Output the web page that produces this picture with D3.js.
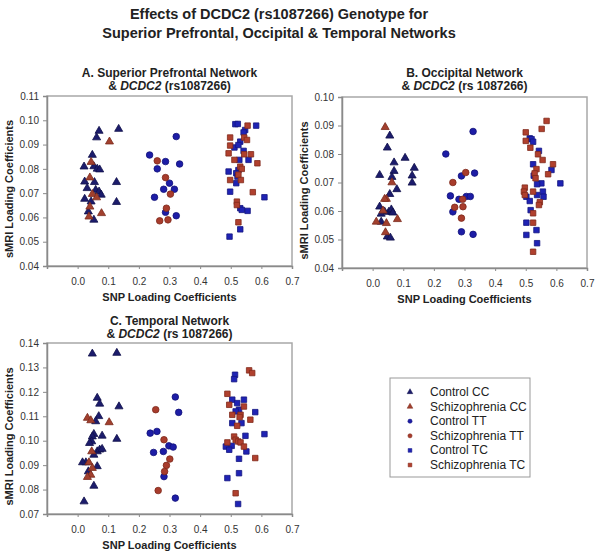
<!DOCTYPE html>
<html><head><meta charset="utf-8">
<script src="https://cdn.jsdelivr.net/npm/d3@7"></script>
<style>body{margin:0;background:#fff}text{font-family:Arial,"Liberation Sans",sans-serif}</style>
</head><body>
<svg id="c" width="600" height="553"></svg>
<script>
// ---------- DATA ----------
const seriesNames = ["Control CC","Schizophrenia CC","Control TT","Schizophrenia TT","Control TC","Schizophrenia TC"];
const xTicks = [0.0,0.1,0.2,0.3,0.4,0.5,0.6,0.7];
const yTicksA = [0.04,0.05,0.06,0.07,0.08,0.09,0.10,0.11];
const yTicksB = [0.04,0.05,0.06,0.07,0.08,0.09,0.10];
const yTicksC = [0.07,0.08,0.09,0.10,0.11,0.12,0.13,0.14];

// Panel A: Superior Prefrontal
const aControlCC = [[0.070,0.0956],[0.062,0.0929],[0.134,0.0964],[0.048,0.0857],[0.021,0.0809],[0.053,0.081],[0.064,0.080],[0.072,0.0797],[0.023,0.0747],[0.031,0.072],[0.055,0.0745],[0.059,0.0713],[0.070,0.0706],[0.077,0.0693],[0.023,0.0676],[0.044,0.0665],[0.035,0.0624],[0.127,0.0745],[0.127,0.0663],[0.053,0.059]];
const aSchizCC = [[0.104,0.0912],[0.044,0.0828],[0.040,0.0764],[0.048,0.0696],[0.062,0.0682],[0.040,0.0644],[0.078,0.0617],[0.037,0.0603]];
const aControlTT = [[0.322,0.0933],[0.235,0.0857],[0.287,0.083],[0.333,0.082],[0.26,0.080],[0.30,0.0741],[0.281,0.0716],[0.316,0.0716],[0.251,0.0683],[0.287,0.0621],[0.322,0.0607]];
const aSchizTT = [[0.26,0.0833],[0.287,0.0764],[0.303,0.0696],[0.29,0.0638],[0.268,0.0586],[0.295,0.059]];
const aControlTC = [[0.515,0.0984],[0.523,0.0985],[0.583,0.0978],[0.547,0.096],[0.542,0.095],[0.531,0.0912],[0.512,0.0888],[0.525,0.0898],[0.542,0.0874],[0.528,0.0837],[0.558,0.0837],[0.525,0.0795],[0.493,0.0789],[0.518,0.0782],[0.522,0.0768],[0.518,0.0741],[0.498,0.0706],[0.61,0.0683],[0.531,0.0638],[0.536,0.0631],[0.555,0.0627],[0.531,0.0551],[0.496,0.0521]];
const aSchizTC = [[0.555,0.0978],[0.498,0.0929],[0.544,0.0929],[0.553,0.0919],[0.498,0.0896],[0.493,0.0864],[0.544,0.086],[0.566,0.086],[0.512,0.0837],[0.587,0.0823],[0.531,0.0809],[0.536,0.080],[0.525,0.0776],[0.498,0.0754],[0.533,0.0754],[0.572,0.0704],[0.52,0.0665],[0.52,0.0651],[0.525,0.058]];

// Panel B: Occipital
const bControlCC = [[0.056,0.0864],[0.048,0.0822],[0.106,0.0786],[0.07,0.077],[0.136,0.0751],[0.07,0.074],[0.023,0.0726],[0.063,0.0719],[0.129,0.0724],[0.129,0.0699],[0.079,0.0676],[0.056,0.0659],[0.023,0.0615],[0.039,0.0598],[0.053,0.0597],[0.063,0.0597],[0.061,0.0605],[0.028,0.059],[0.066,0.0594],[0.028,0.0562],[0.048,0.051],[0.058,0.0506]];
const bSchizCC = [[0.041,0.0894],[0.063,0.0700],[0.045,0.0642],[0.039,0.0642],[0.034,0.0601],[0.012,0.0562],[0.045,0.0557],[0.081,0.0571],[0.042,0.0525]];
const bControlTT = [[0.328,0.0879],[0.239,0.080],[0.29,0.0723],[0.333,0.0733],[0.254,0.0653],[0.282,0.0641],[0.306,0.0651],[0.319,0.0651],[0.262,0.0597],[0.29,0.0527],[0.328,0.0518]];
const bSchizTT = [[0.262,0.070],[0.304,0.0735],[0.294,0.0641],[0.295,0.0615],[0.268,0.0613],[0.29,0.0575]];
const bControlTC = [[0.513,0.0855],[0.519,0.0852],[0.524,0.0843],[0.543,0.0811],[0.524,0.0764],[0.584,0.0744],[0.526,0.0724],[0.613,0.0697],[0.551,0.0697],[0.537,0.0694],[0.556,0.0668],[0.558,0.065],[0.537,0.0656],[0.502,0.065],[0.513,0.0635],[0.516,0.0603],[0.502,0.0559],[0.502,0.0516],[0.535,0.0533],[0.537,0.0487]];
const bSchizTC = [[0.568,0.0916],[0.552,0.0888],[0.5,0.0876],[0.5,0.0846],[0.515,0.0822],[0.54,0.0799],[0.555,0.0779],[0.589,0.0764],[0.535,0.0747],[0.529,0.0732],[0.573,0.0729],[0.532,0.0715],[0.497,0.0682],[0.494,0.0668],[0.497,0.0656],[0.524,0.0668],[0.546,0.0631],[0.543,0.0621],[0.524,0.0592],[0.524,0.0559],[0.524,0.0457]];

// Panel C: Temporal
const cControlCC = [[0.048,0.1356],[0.128,0.1359],[0.064,0.1175],[0.072,0.1151],[0.135,0.114],[0.069,0.11],[0.059,0.1079],[0.053,0.1027],[0.048,0.1017],[0.08,0.102],[0.128,0.1007],[0.046,0.0997],[0.039,0.099],[0.064,0.0956],[0.072,0.0963],[0.08,0.0966],[0.053,0.0942],[0.027,0.0911],[0.016,0.0911],[0.064,0.0895],[0.035,0.0874],[0.053,0.0815],[0.021,0.0751]];
const cSchizCC = [[0.032,0.1093],[0.043,0.1083],[0.103,0.1075],[0.046,0.0956],[0.037,0.0911],[0.048,0.0888],[0.043,0.086],[0.032,0.0851]];
const cControlTT = [[0.319,0.1179],[0.33,0.1116],[0.237,0.1031],[0.259,0.1038],[0.298,0.0979],[0.312,0.0974],[0.248,0.0952],[0.28,0.0956],[0.282,0.0853],[0.319,0.0765]];
const cSchizTT = [[0.255,0.1127],[0.282,0.1004],[0.301,0.0925],[0.29,0.0899],[0.284,0.0874],[0.263,0.0796]];
const cControlTC = [[0.514,0.127],[0.511,0.1252],[0.505,0.1168],[0.543,0.1168],[0.521,0.1154],[0.527,0.1127],[0.516,0.112],[0.58,0.1117],[0.505,0.1072],[0.535,0.1072],[0.61,0.1027],[0.548,0.102],[0.484,0.0976],[0.503,0.0979],[0.495,0.0963],[0.551,0.0956],[0.527,0.0926],[0.489,0.0847],[0.527,0.0867],[0.524,0.0741]];
const cSchizTC = [[0.56,0.1288],[0.57,0.1277],[0.489,0.1192],[0.495,0.1147],[0.543,0.114],[0.505,0.1106],[0.532,0.1106],[0.529,0.1097],[0.564,0.1086],[0.521,0.1061],[0.511,0.1017],[0.516,0.1004],[0.524,0.0997],[0.532,0.0993],[0.489,0.0993],[0.543,0.0976],[0.58,0.0929],[0.516,0.0785]];

// ---------- STYLE ----------
const styles = [
  {shape:d3.symbolTriangle, fill:"#1c1c6c", stroke:"#10104a", size:28},
  {shape:d3.symbolTriangle, fill:"#a2402e", stroke:"#7a2a1c", size:28},
  {shape:d3.symbolCircle,   fill:"#1d1da6", stroke:"#121278", size:34},
  {shape:d3.symbolCircle,   fill:"#a83c2c", stroke:"#7c281a", size:34},
  {shape:d3.symbolSquare,   fill:"#1f23b4", stroke:"#141680", size:30},
  {shape:d3.symbolSquare,   fill:"#b0402e", stroke:"#80291a", size:30}
];

const svg = d3.select("#c");
const txt = "#222";

// Main title
svg.append("text").attr("x",279).attr("y",19).attr("text-anchor","middle")
  .attr("font-size","14.5px").attr("font-weight","bold").attr("fill",txt)
  .text("Effects of DCDC2 (rs1087266) Genotype for");
svg.append("text").attr("x",279).attr("y",38).attr("text-anchor","middle")
  .attr("font-size","14.5px").attr("font-weight","bold").attr("fill",txt)
  .text("Superior Prefrontal, Occipital & Temporal Networks");

const panels = [
  {box:{l:47,r:292,t:96,b:266}, ydom:[0.04,0.11], yt:yTicksA,
   t1:"A. Superior Prefrontal Network", t2a:"& ", t2b:"DCDC2", t2c:" (rs1087266)", ty:77,
   data:[aControlCC,aSchizCC,aControlTT,aSchizTT,aControlTC,aSchizTC]},
  {box:{l:342,r:587,t:97,b:268}, ydom:[0.04,0.10], yt:yTicksB,
   t1:"B. Occipital Network", t2a:"& ", t2b:"DCDC2", t2c:" (rs 1087266)", ty:77,
   data:[bControlCC,bSchizCC,bControlTT,bSchizTT,bControlTC,bSchizTC]},
  {box:{l:47,r:292,t:343,b:514}, ydom:[0.07,0.14], yt:yTicksC,
   t1:"C. Temporal Network", t2a:"& ", t2b:"DCDC2", t2c:" (rs 1087266)", ty:325,
   data:[cControlCC,cSchizCC,cControlTT,cSchizTT,cControlTC,cSchizTC]}
];

panels.forEach(p => {
  const {l,r,t,b} = p.box;
  const x = d3.scaleLinear().domain([-0.1,0.7]).range([l,r]);
  const y = d3.scaleLinear().domain(p.ydom).range([b,t]);
  const cx = (l+r)/2;

  svg.append("text").attr("x",cx).attr("y",p.ty).attr("text-anchor","middle")
    .attr("font-size","12px").attr("font-weight","bold").attr("fill",txt).text(p.t1);
  const t2 = svg.append("text").attr("x",cx).attr("y",p.ty+13).attr("text-anchor","middle")
    .attr("font-size","12px").attr("font-weight","bold").attr("fill",txt);
  t2.append("tspan").text(p.t2a);
  t2.append("tspan").attr("font-style","italic").text(p.t2b);
  t2.append("tspan").text(p.t2c);

  svg.append("rect").attr("x",l).attr("y",t).attr("width",r-l).attr("height",b-t)
    .attr("fill","#fff").attr("stroke","#a8a8a8").attr("stroke-width",1.5);

  const ya = d3.axisLeft(y).tickValues(p.yt).tickFormat(d3.format(".2f")).tickSize(4).tickPadding(4);
  const gy = svg.append("g").attr("transform",`translate(${l},0)`).call(ya);
  const xa = d3.axisBottom(x).tickValues(xTicks).tickFormat(d3.format(".1f")).tickSize(3).tickPadding(9);
  const gx = svg.append("g").attr("transform",`translate(0,${b})`).call(xa);
  [gx,gy].forEach(g=>{
    g.select(".domain").attr("stroke","#8a8a8a").attr("stroke-width",1.5);
    g.selectAll(".tick line").attr("stroke","#8a8a8a");
    g.selectAll(".tick text").attr("fill","#333").attr("font-size","10px")
      .attr("font-family","Arial, 'Liberation Sans', sans-serif");
  });

  svg.append("text").attr("x",cx).attr("y",b+35).attr("text-anchor","middle")
    .attr("font-size","11px").attr("font-weight","bold").attr("fill",txt).text("SNP Loading Coefficients");
  svg.append("text").attr("transform",`translate(${l-34},${(t+b)/2+8}) rotate(-90)`)
    .attr("text-anchor","middle").attr("font-size","11px").attr("font-weight","bold").attr("fill",txt)
    .text("sMRI Loading Coefficients");

  p.data.forEach((pts,i)=>{
    const s = styles[i];
    svg.append("g").selectAll("path").data(pts).join("path")
      .attr("transform",d=>`translate(${x(d[0])},${y(d[1])})`)
      .attr("d",d3.symbol().type(s.shape).size(s.size))
      .attr("fill",s.fill).attr("stroke",s.stroke).attr("stroke-width",0.8);
  });
});

// Legend
const lg = svg.append("g");
lg.append("rect").attr("x",390).attr("y",378).attr("width",140).attr("height",99)
  .attr("fill","#fff").attr("stroke","#999").attr("stroke-width",1);
seriesNames.forEach((n,i)=>{
  const yy = 392 + i*14.6;
  const s = styles[i];
  lg.append("path").attr("transform",`translate(410,${yy})`)
    .attr("d",d3.symbol().type(s.shape).size(14)).attr("fill",s.fill).attr("stroke",s.stroke).attr("stroke-width",0.5);
  lg.append("text").attr("x",430).attr("y",yy+4).attr("font-size","12px").attr("fill",txt).text(n);
});
</script>
</body></html>
